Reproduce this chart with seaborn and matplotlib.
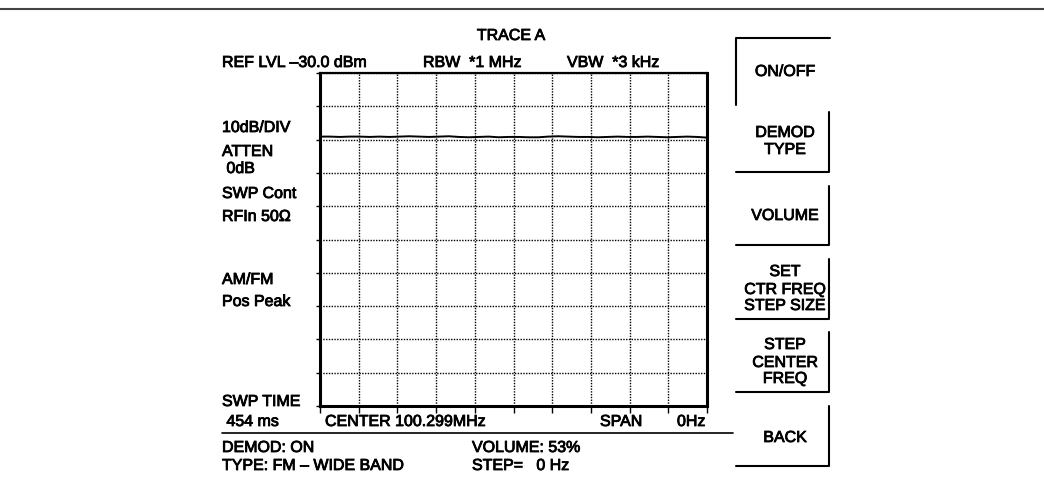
#!/usr/bin/env python3
from __future__ import annotations

import matplotlib

matplotlib.use("Agg")
import matplotlib.patheffects as pe
import matplotlib.pyplot as plt
import numpy as np
import pandas as pd
import seaborn as sns

# Screen settings of the analyzer (TRACE A)
REF_LEVEL_DBM = -30.0
DB_PER_DIV = 10
N_DIVS = 10

# Trace amplitude across the sweep (dBm)
trace_dbm = [
    -49.1, -49.1, -49.2, -49.1, -49.1, -49.2, -49.1, -49.2, -49.1, -49.0,
    -49.1, -49.2, -49.1, -49.0, -49.2, -49.3, -49.2, -49.1, -49.3, -49.2,
    -49.2, -49.3, -49.3, -49.1, -49.0, -49.1, -49.2, -49.2, -49.3, -49.2,
    -49.1, -49.2, -49.2, -49.1, -49.2, -49.3, -49.2, -49.1, -49.2, -49.4,
]

header_title = "TRACE A"
header_items = ["REF LVL –30.0 dBm", "RBW  *1 MHz", "VBW  *3 kHz"]
side_labels = ["10dB/DIV", "ATTEN", " 0dB", "SWP Cont", "RFIn 50Ω", "AM/FM", "Pos Peak", "SWP TIME", " 454 ms"]
footer_items = ["CENTER 100.299MHz", "SPAN", "0Hz"]
status_left = ["DEMOD: ON", "TYPE: FM – WIDE BAND"]
status_right = ["VOLUME: 53%", "STEP=   0 Hz"]
softkeys = [["ON/OFF"], ["DEMOD", "TYPE"], ["VOLUME"], ["SET", "CTR FREQ", "STEP SIZE"],
            ["STEP", "CENTER", "FREQ"], ["BACK"]]

W, H = 1044, 485


def main() -> int:
    sns.set_theme(style="white")
    plt.rcParams["font.family"] = ["Liberation Sans", "DejaVu Sans"]

    fig = plt.figure(figsize=(W / 100, H / 100), dpi=100)
    fig.patch.set_facecolor("white")

    # overlay in pixel coordinates for the screen furniture
    deco = fig.add_axes([0, 0, 1, 1])
    deco.set_xlim(0, W)
    deco.set_ylim(H, 0)
    deco.axis("off")

    # graticule
    ax = fig.add_axes([320 / W, 1 - 407 / H, 387 / W, 333 / H])
    sweep = pd.DataFrame({"point": np.arange(len(trace_dbm)), "level": trace_dbm})
    sns.lineplot(data=sweep, x="point", y="level", color="black", linewidth=1.4, ax=ax)
    bottom = REF_LEVEL_DBM - DB_PER_DIV * N_DIVS
    ax.set_ylim(bottom, REF_LEVEL_DBM)
    ax.set_xlim(0, len(trace_dbm) - 1)
    ax.set_xticks(np.linspace(0, len(trace_dbm) - 1, N_DIVS + 1))
    ax.set_yticks(np.arange(bottom, REF_LEVEL_DBM + 1, DB_PER_DIV))
    ax.set_xticklabels([])
    ax.set_yticklabels([])
    ax.set_xlabel("")
    ax.set_ylabel("")
    ax.grid(True, color="black", linestyle=(0, (1, 1)), linewidth=1.0)
    ax.tick_params(axis="y", direction="out", length=3, width=1.0, color="black", left=True)
    ax.tick_params(axis="x", direction="out", length=5, width=1.0, color="black", bottom=True)
    for side, spine in ax.spines.items():
        spine.set_visible(True)
        spine.set_color("black")
        spine.set_linewidth(2.2 if side != "top" else 1.6)

    fs = 11.5
    heavy = [pe.withStroke(linewidth=0.6, foreground="black")]
    kw = dict(fontsize=fs, color="black", va="baseline", path_effects=heavy)

    # rule across the top of the page
    deco.plot([0, W], [10, 10], color="#444444", linewidth=1.5)

    deco.text(511, 41, header_title, ha="center", **kw)
    for x, label in zip([222, 423, 567], header_items):
        deco.text(x, 68, label, ha="left", **kw)

    for y, label in zip([133, 157, 174, 199, 222, 285, 307, 407, 427], side_labels):
        deco.text(222, y, label, ha="left", **kw)

    for x, label in zip([325, 600, 677], footer_items):
        deco.text(x, 427, label, ha="left", **kw)

    deco.plot([222, 733], [434, 434], color="black", linewidth=1.2)

    for y, label in zip([453, 471], status_left):
        deco.text(222, y, label, ha="left", **kw)
    for y, label in zip([453, 471], status_right):
        deco.text(472, y, label, ha="left", **kw)

    # soft keys
    key_x0, key_x1 = 736, 829
    deco.plot([key_x0, key_x0, 830], [106, 39, 39], color="black", linewidth=1.5)
    key_spans = [(113, 173), (187, 246), (260, 320), (333, 393), (407, 467)]
    for top, bot in key_spans:
        deco.plot([key_x1, key_x1, key_x0], [top, bot, bot], color="black", linewidth=1.5)

    key_baselines = [[77], [138, 155], [221], [277, 295, 311], [350, 368, 384], [443]]
    for lines, ys in zip(softkeys, key_baselines):
        for label, y in zip(lines, ys):
            deco.text(785, y, label, ha="center", **kw)

    fig.savefig("out.png", dpi=100, facecolor="white")
    plt.close(fig)
    return 0


if __name__ == "__main__":
    raise SystemExit(main())
